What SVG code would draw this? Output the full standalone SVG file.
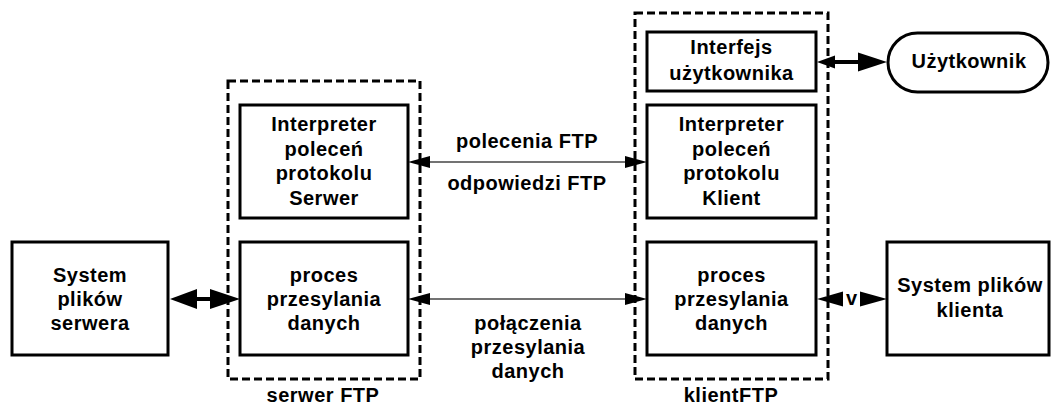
<svg xmlns="http://www.w3.org/2000/svg" width="1052" height="408" viewBox="0 0 1052 408">
  <style>
    .box { fill: #fff; stroke: #000; stroke-width: 3; }
    .group { fill: none; stroke: #000; stroke-width: 3; stroke-dasharray: 8 4; }
    text { font-family: "Liberation Sans", Arial, sans-serif; font-weight: bold; font-size: 20px; letter-spacing: 0.5px; fill: #000; text-anchor: middle; }
    .thin { stroke: #444; stroke-width: 1.5; fill: none; }
    .thick { stroke: #000; stroke-width: 4; fill: none; }
    .head { fill: #000; }
  </style>

  <!-- component groups -->
  <g id="server-group">
    <rect class="group" x="228" y="81" width="192" height="298"/>
    <text x="323" y="402">serwer FTP</text>
  </g>
  <g id="client-group">
    <rect class="group" x="635" y="13" width="193" height="366"/>
    <text x="731" y="402">klientFTP</text>
  </g>

  <!-- nodes -->
  <g id="server-fs">
    <rect class="box" x="12" y="242" width="156" height="113"/>
    <text x="90" y="282">System</text>
    <text x="90" y="306">plików</text>
    <text x="90" y="330">serwera</text>
  </g>
  <g id="server-pi">
    <rect class="box" x="240" y="105" width="168" height="113"/>
    <text x="324" y="131">Interpreter</text>
    <text x="324" y="155.5">poleceń</text>
    <text x="324" y="180">protokolu</text>
    <text x="324" y="204.5">Serwer</text>
  </g>
  <g id="server-dtp">
    <rect class="box" x="240" y="242" width="168" height="113"/>
    <text x="324" y="282">proces</text>
    <text x="324" y="306">przesylania</text>
    <text x="324" y="330">danych</text>
  </g>
  <g id="client-ui">
    <rect class="box" x="647" y="32" width="169" height="59"/>
    <text x="731.5" y="54">Interfejs</text>
    <text x="731.5" y="80">użytkownika</text>
  </g>
  <g id="client-pi">
    <rect class="box" x="647" y="105" width="169" height="113"/>
    <text x="731.5" y="131">Interpreter</text>
    <text x="731.5" y="155.5">poleceń</text>
    <text x="731.5" y="180">protokolu</text>
    <text x="731.5" y="204.5">Klient</text>
  </g>
  <g id="client-dtp">
    <rect class="box" x="647" y="242" width="169" height="113"/>
    <text x="731.5" y="282">proces</text>
    <text x="731.5" y="306">przesylania</text>
    <text x="731.5" y="330">danych</text>
  </g>
  <g id="user">
    <rect class="box" x="888" y="33" width="160" height="59" rx="29.5" ry="29.5"/>
    <text x="969" y="68">Użytkownik</text>
  </g>
  <g id="client-fs">
    <rect class="box" x="887" y="242" width="162" height="113"/>
    <text x="970" y="292">System plików</text>
    <text x="970" y="317">klienta</text>
  </g>

  <!-- connectors -->
  <g id="connectors">
    <!-- control connection -->
    <line class="thin" x1="428" y1="162" x2="627" y2="162"/>
    <polygon class="head" points="408,162 430,156 430,168"/>
    <polygon class="head" points="647,162 625,156 625,168"/>
    <text x="527" y="148">polecenia FTP</text>
    <text x="527" y="190">odpowiedzi FTP</text>

    <!-- data connection -->
    <line class="thin" x1="428" y1="299" x2="627" y2="299"/>
    <polygon class="head" points="408,299 430,293 430,305"/>
    <polygon class="head" points="647,299 625,293 625,305"/>
    <text x="528" y="330">połączenia</text>
    <text x="528" y="354">przesylania</text>
    <text x="528" y="378">danych</text>

    <!-- server file system link -->
    <line class="thick" x1="195" y1="299" x2="212" y2="299"/>
    <polygon class="head" points="170,299 197,289 197,309"/>
    <polygon class="head" points="240,299 210,289 210,309"/>

    <!-- user link -->
    <line class="thick" x1="832" y1="62" x2="860" y2="62"/>
    <polygon class="head" points="817,62 835,55.5 835,68.5"/>
    <polygon class="head" points="887,62 858,52.5 858,71.5"/>

    <!-- client file system link -->
    <polygon class="head" points="817,299 843,291.5 843,306.5"/>
    <polygon class="head" points="887,299 860,291.5 860,306.5"/>
    <text x="851.5" y="305" style="letter-spacing:0">v</text>
  </g>
</svg>
